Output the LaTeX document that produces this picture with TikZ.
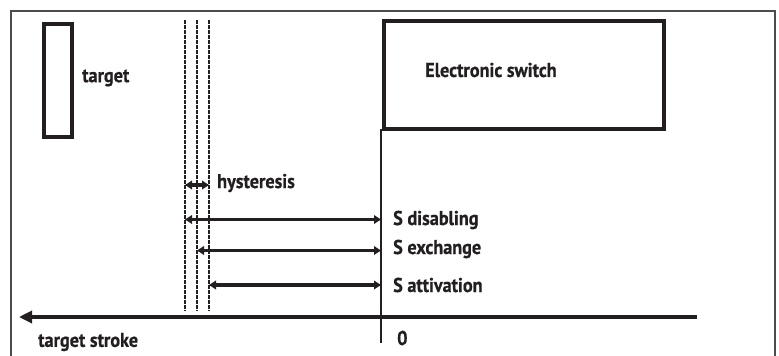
\documentclass[tikz,border=0pt]{standalone}
\usepackage{fontspec}
\setmainfont[FakeStretch=0.91,FakeBold=0.6]{PT Sans}
\usetikzlibrary{arrows.meta}
\definecolor{ink}{HTML}{231F20}
\begin{document}
\begin{tikzpicture}[x=1pt,y=-1pt,
  lbl/.style={font=\bfseries\fontsize{20}{24}\selectfont, text=ink, inner sep=0pt, anchor=west},
  dimarrow/.style={line width=3.2pt, draw=ink, {Triangle[length=7pt,width=8.5pt]}-{Triangle[length=7pt,width=8.5pt]}},
  guide/.style={line width=1.2pt, draw=ink, dash pattern=on 3.5pt off 1.5pt},
  heavybox/.style={draw=ink, line width=4pt, inner sep=0pt},
  thinline/.style={line width=1.1pt, draw=ink}
]
\useasboundingbox (0,0) rectangle (779,356);
% frame
\draw[line width=1.4pt, draw=black!70] (11,356) -- (11,11) -- (775,11) -- (775,356);

% target
\node[heavybox, minimum width=28.5pt, minimum height=113.5pt] (tg) at (58,80.5) {};
\node[lbl] (tgtxt) at (82,78) {target};

% electronic switch
\node[heavybox, minimum width=280.5pt, minimum height=107.5pt] (sw) at (524,75) {};
\node[lbl] (swtxt) at (425,70) {Electronic switch};

% zero line
\coordinate (zt) at (381,129);
\coordinate (zb) at (381,343);
\draw[thinline] (zt) -- (zb);

% dashed guide lines
\coordinate (d1t) at (185,20);  \coordinate (d1b) at (185,311);
\coordinate (d2t) at (197,20);  \coordinate (d2b) at (197,311);
\coordinate (d3t) at (209,20);  \coordinate (d3b) at (209,311);
\draw[guide] (d1t) -- (d1b);
\draw[guide] (d2t) -- (d2b);
\draw[guide] (d3t) -- (d3b);

% hysteresis
\coordinate (h1) at (185,185); \coordinate (h2) at (209,185);
\draw[dimarrow] (h1) -- (h2);
\node[lbl] (hytxt) at (217,183) {hysteresis};

% distances
\coordinate (s1a) at (185,219.5); \coordinate (s1b) at (381,219.5);
\coordinate (s2a) at (197,250.5); \coordinate (s2b) at (381,250.5);
\coordinate (s3a) at (209,285);   \coordinate (s3b) at (381,285);
\draw[dimarrow] (s1a) -- (s1b);
\draw[dimarrow] (s2a) -- (s2b);
\draw[dimarrow] (s3a) -- (s3b);
\node[lbl] (s1txt) at (393,220) {S disabling};
\node[lbl] (s2txt) at (393,249) {S exchange};
\node[lbl] (s3txt) at (393,285) {S attivation};

% stroke axis
\coordinate (ax1) at (697,317);
\coordinate (ax2) at (19,317);
\draw[line width=3.4pt, draw=ink, -{Triangle[length=13pt,width=12pt]}] (ax1) -- (ax2);
\node[lbl] (sttxt) at (38,342) {target stroke};
\node[lbl] (zero) at (397,338) {0};
\end{tikzpicture}
\end{document}
